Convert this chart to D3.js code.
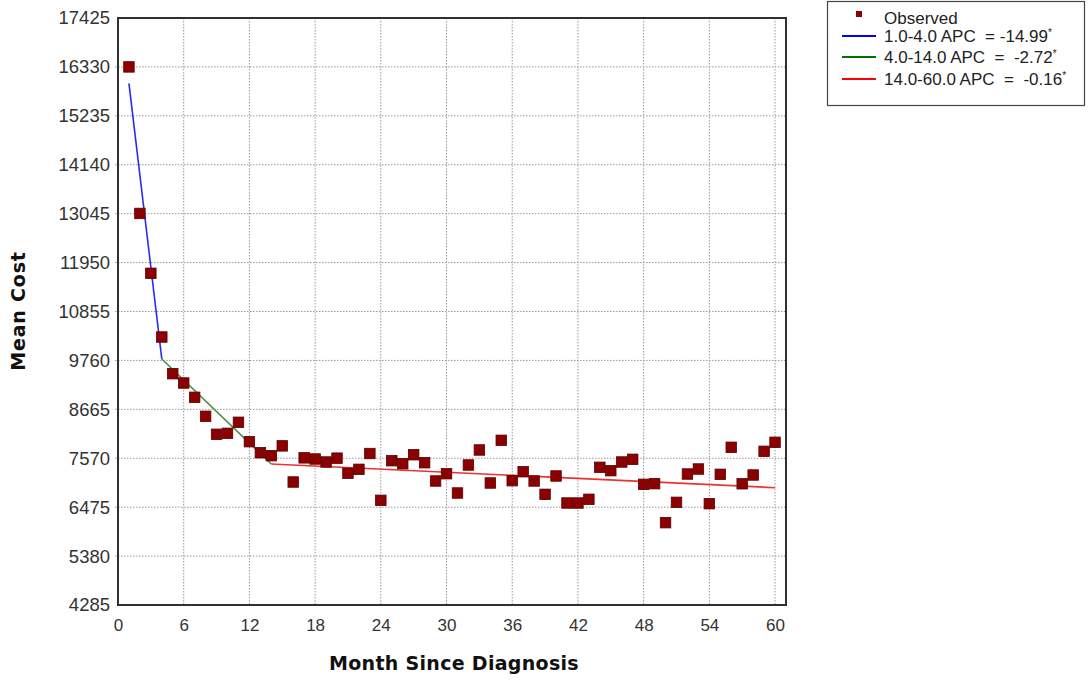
<!DOCTYPE html>
<html>
<head>
<meta charset="utf-8">
<script src="https://cdn.jsdelivr.net/npm/d3@7"></script>
<style>
  body { margin: 0; background: #fff; }
  svg { display: block; }
  text { white-space: pre; }
</style>
</head>
<body>
<div id="chart"></div>
<script>
// data
var months = [1,2,3,4,5,6,7,8,9,10,11,12,13,14,15,16,17,18,19,20,
              21,22,23,24,25,26,27,28,29,30,31,32,33,34,35,36,37,38,39,40,
              41,42,43,44,45,46,47,48,49,50,51,52,53,54,55,56,57,58,59,60];
var observed = [16330,13050,11710,10284,9463,9254,8934,8509,8106,8128,
                8375,7941,7694,7627,7847,7038,7579,7553,7486,7572,
                7233,7322,7676,6628,7515,7448,7649,7470,7061,7224,
                6792,7419,7755,7016,7971,7068,7269,7061,6762,7173,
                6568,6568,6651,7367,7292,7486,7546,6986,7001,6128,
                6583,7217,7329,6553,7210,7815,6999,7195,7725,7927];

// joinpoint segments
var segStart = [1, 4, 14];
var segEnd = [4, 14, 60];
var segFrom = [15963, 9792, 7441];
var segTo = [9792, 7441, 6911];
var segColors = ["#2b2bf0", "#4b8e4b", "#f03030"];
var legendColors = ["#0000ff", "#007000", "#ff0000"];
var segLabels = ["1.0-4.0 APC  = -14.99", "4.0-14.0 APC  =  -2.72", "14.0-60.0 APC  =  -0.16"];

var xTicks = [0,6,12,18,24,30,36,42,48,54,60];
var yTicks = [4285,5380,6475,7570,8665,9760,10855,11950,13045,14140,15235,16330,17425];

var width = 1089, height = 681;
var pLeft = 118, pTop = 18, pRight = 786, pBottom = 605;

var svg = d3.select("#chart")
    .append("svg")
    .attr("width", width)
    .attr("height", height);

var x = d3.scaleLinear().domain([0, 61]).range([pLeft, pRight]);
var y = d3.scaleLinear().domain([4285, 17425]).range([pBottom, pTop]);

//grid
svg.append("g")
    .selectAll("line")
    .data(xTicks.filter(function(d) { return d > 0; }))
    .enter()
    .append("line")
    .attr("x1", function(d) { return x(d); })
    .attr("x2", function(d) { return x(d); })
    .attr("y1", pTop)
    .attr("y2", pBottom)
    .attr("stroke", "#999")
    .attr("stroke-dasharray", "1.5,1.5");

svg.append("g")
    .selectAll("line")
    .data(yTicks.slice(1, -1))
    .enter()
    .append("line")
    .attr("x1", pLeft - 3)
    .attr("x2", pRight)
    .attr("y1", function(d) { return y(d); })
    .attr("y2", function(d) { return y(d); })
    .attr("stroke", "#999")
    .attr("stroke-dasharray", "1.5,1.5");

//axes
var xAxis = d3.axisBottom(x).tickValues(xTicks).tickSize(0).tickPadding(14);
var gx = svg.append("g")
    .attr("transform", "translate(0," + pBottom + ")")
    .call(xAxis);
gx.select(".domain").remove();
gx.selectAll("text")
    .attr("font-family", "'Liberation Sans', Arial, sans-serif")
    .style("font-size", "17px")
    .attr("fill", "#333");

var yAxis = d3.axisLeft(y).tickValues(yTicks).tickFormat(d3.format("d")).tickSize(0).tickPadding(8);
var gy = svg.append("g")
    .attr("transform", "translate(" + pLeft + ",0)")
    .call(yAxis);
gy.select(".domain").remove();
gy.selectAll("text")
    .attr("font-family", "'Liberation Sans', Arial, sans-serif")
    .style("font-size", "18.5px")
    .attr("fill", "#333");

//frame
svg.append("rect")
    .attr("x", pLeft)
    .attr("y", pTop)
    .attr("width", pRight - pLeft)
    .attr("height", pBottom - pTop)
    .attr("fill", "none")
    .attr("stroke", "#303030")
    .attr("stroke-width", 2);

//segment lines
var line = d3.line()
    .x(function(d) { return x(d[0]); })
    .y(function(d) { return y(d[1]); });

segStart.forEach(function(s, i) {
    svg.append("path")
        .attr("d", line([[s, segFrom[i]], [segEnd[i], segTo[i]]]))
        .attr("fill", "none")
        .attr("stroke", segColors[i])
        .attr("stroke-width", 1.6);
});

//observed points
var msize = 10.5;
svg.append("g")
    .selectAll("rect")
    .data(months)
    .enter()
    .append("rect")
    .attr("x", function(d) { return x(d) - msize / 2; })
    .attr("y", function(d, i) { return y(observed[i]) - msize / 2; })
    .attr("width", msize)
    .attr("height", msize)
    .attr("fill", "#8b0000")
    .attr("stroke", "#5a0000")
    .attr("stroke-width", 0.8);

//axis titles
svg.append("text")
    .attr("x", (pLeft + pRight) / 2 + 2)
    .attr("y", 670)
    .attr("text-anchor", "middle")
    .attr("font-family", "'DejaVu Sans', Verdana, sans-serif")
    .attr("font-weight", "bold")
    .style("font-size", "19px")
    .style("letter-spacing", "0.3px")
    .attr("fill", "#111")
    .text("Month Since Diagnosis");

svg.append("text")
    .attr("transform", "translate(25,311) rotate(-90)")
    .attr("text-anchor", "middle")
    .attr("font-family", "'DejaVu Sans', Verdana, sans-serif")
    .attr("font-weight", "bold")
    .style("font-size", "19px")
    .style("letter-spacing", "0.8px")
    .attr("fill", "#111")
    .text("Mean Cost");

//legend
var lg = svg.append("g");
lg.append("rect")
    .attr("x", 827.5)
    .attr("y", 1.5)
    .attr("width", 257)
    .attr("height", 104)
    .attr("fill", "#fff")
    .attr("stroke", "#444")
    .attr("stroke-width", 1.2);

lg.append("rect")
    .attr("x", 856)
    .attr("y", 11)
    .attr("width", 6)
    .attr("height", 6)
    .attr("fill", "#8b0000");

lg.append("text")
    .attr("x", 884)
    .attr("y", 24)
    .attr("font-family", "'Liberation Sans', Arial, sans-serif")
    .style("font-size", "17px")
    .attr("fill", "#222")
    .text("Observed");

var rowY = [36, 57, 79];
segLabels.forEach(function(t, i) {
    lg.append("line")
        .attr("x1", 842)
        .attr("x2", 876)
        .attr("y1", rowY[i])
        .attr("y2", rowY[i])
        .attr("stroke", legendColors[i])
        .attr("stroke-width", 2);
    var tx = lg.append("text")
        .attr("x", 884)
        .attr("y", rowY[i] + 6)
        .attr("font-family", "'Liberation Sans', Arial, sans-serif")
        .style("font-size", "17px")
        .attr("fill", "#222")
        .text(t);
    tx.append("tspan")
        .attr("dy", -6)
        .style("font-size", "10px")
        .text("*");
});
</script>
</body>
</html>
